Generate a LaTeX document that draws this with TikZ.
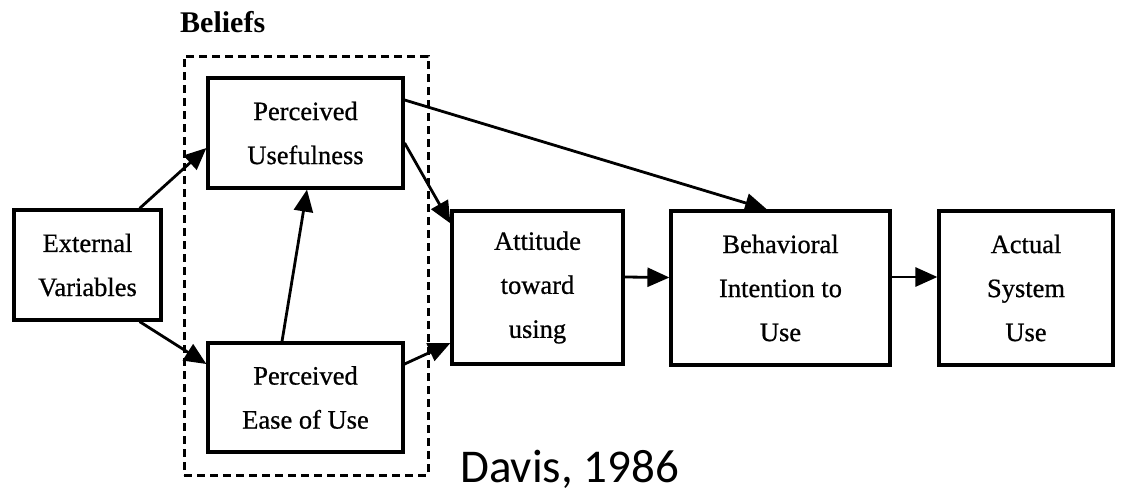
\documentclass[tikz,border=0pt]{standalone}
\usepackage{fontspec}
\setmainfont{Liberation Serif}
\newfontfamily\boxfont[FakeBold=0.7]{Liberation Serif}
\newfontfamily\capfont{Carlito}
\usetikzlibrary{arrows.meta}
\tikzset{
  box/.style={draw, line width=3.2pt, inner sep=0pt, align=center,
    font=\boxfont\fontsize{26.5}{44}\selectfont},
  conn/.style={line width=2.8pt, -{Triangle[length=22pt,width=19pt]}},
  beliefbox/.style={draw, line width=3pt, dash pattern=on 8pt off 5pt, inner sep=0pt}
}
\begin{document}
\begin{tikzpicture}[x=1pt,y=-1pt]
\useasboundingbox (0,0) rectangle (1123,493);
\node[beliefbox, minimum width=244pt, minimum height=419pt] (bel) at (306,265.5) {};
\node[anchor=base west, inner sep=0pt, font=\bfseries\fontsize{30}{30}\selectfont] (beltitle) at (180,32) {Beliefs};
\node[box, minimum width=147pt, minimum height=110pt] (ev) at (87.5,265) {External\\Variables};
\node[box, minimum width=195pt, minimum height=110pt] (pu) at (305.5,133) {Perceived\\Usefulness};
\node[box, minimum width=195pt, minimum height=109pt] (peou) at (305.5,397.5) {Perceived\\Ease of Use};
\node[box, minimum width=171pt, minimum height=153pt] (att) at (537.5,287.5) {Attitude\\toward\\using};
\node[box, minimum width=219pt, minimum height=154pt] (bi) at (780.5,288) {Behavioral\\Intention to\\Use};
\node[box, minimum width=174pt, minimum height=154pt] (asu) at (1026,288) {Actual\\System\\Use};
\node[anchor=base west, inner sep=0pt, font=\capfont\fontsize{47}{47}\selectfont] (cite) at (460,482) {Davis, 1986};
\draw[conn] ([xshift=-23pt]ev.north east) -- ([yshift=-15pt]pu.west);
\draw[conn] ([xshift=-23pt]ev.south east) -- ([yshift=33.5pt]peou.west);
\draw[conn] ([xshift=-23.5pt]peou.north) -- ([xshift=1.5pt]pu.south);
\draw[conn] ([yshift=-10pt]pu.east) -- ([yshift=-14pt]att.north west);
\draw[conn] ([yshift=33pt]pu.east) -- ([xshift=-13.5pt]bi.north);
\draw[conn] ([yshift=33.5pt]peou.east) -- ([yshift=-55.5pt]att.west);
\draw[conn] ([yshift=10.5pt]att.east) -- ([yshift=10.5pt]bi.west);
\draw[conn] ([yshift=11pt]bi.east) -- ([yshift=11pt]asu.west);
\end{tikzpicture}
\end{document}
